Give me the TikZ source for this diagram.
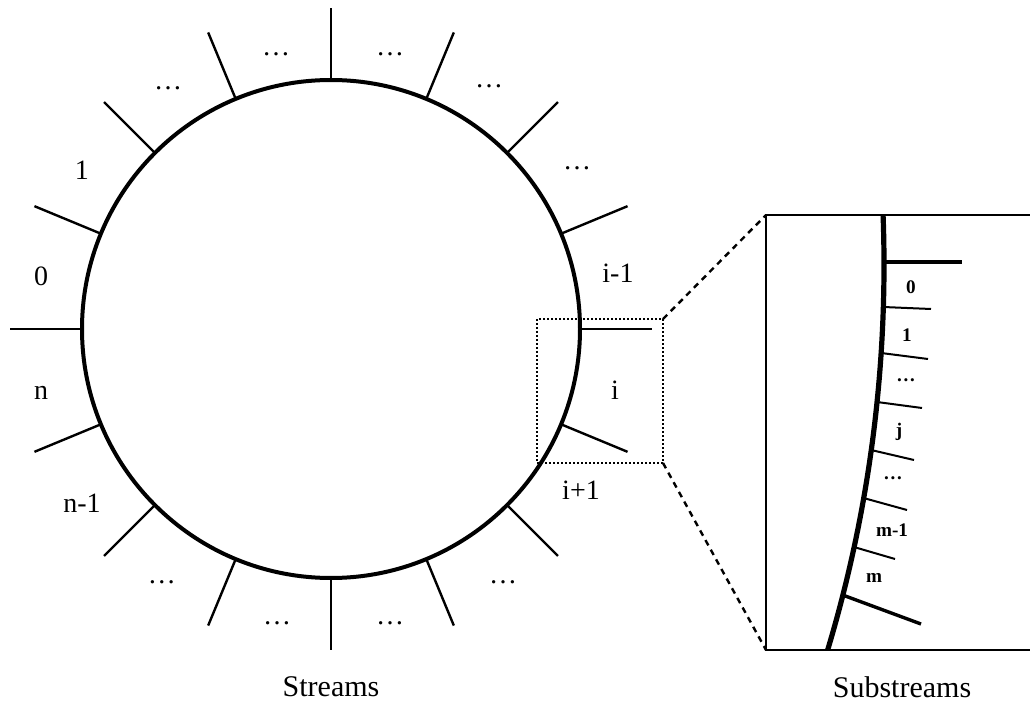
\documentclass[tikz,border=0pt]{standalone}
\usepackage{fontspec}
\setmainfont{Liberation Serif}
\usetikzlibrary{calc}
\begin{document}
\begin{tikzpicture}[x=0.5pt,y=-0.5pt,
  ring/.style={line width=2pt},
  spoke/.style={line width=1.2pt},
  curveline/.style={line width=2.6pt},
  thickspoke/.style={line width=1.7pt},
  thinspoke/.style={line width=1pt},
  boxline/.style={line width=1.2pt},
  zoomline/.style={line width=1.2pt, dash pattern=on 3pt off 2.5pt},
  dotbox/.style={line width=1pt, dash pattern=on 1pt off 1pt},
  lab/.style={font=\fontsize{14}{16}\selectfont, inner sep=0pt},
  captiontext/.style={font=\fontsize{15}{18}\selectfont, inner sep=0pt},
  sublab/.style={font=\fontsize{9.6}{11}\selectfont\bfseries, inner sep=0pt}]
\useasboundingbox (0,0) rectangle (1030,706);

% main circle with spokes
\coordinate (C) at (331,329);
\draw[ring] (C) circle[radius=249];
\foreach \a in {0,22.5,...,337.5}
  \draw[spoke] ($(C)+(\a:249)$) -- ($(C)+(\a:321)$);

% labels around circle
\node[lab] (t1) at (276,54) {\ldots};
\node[lab] (t2) at (390,54) {\ldots};
\node[lab] (t3) at (168,88) {\ldots};
\node[lab] (t4) at (489,86) {\ldots};
\node[lab] (t5) at (577,168) {\ldots};
\node[lab] (l1) at (82,170) {1};
\node[lab] (l0) at (41,276) {0};
\node[lab] (ln) at (41,393) {n};
\node[lab] (lnm) at (82,503) {n-1};
\node[lab] (lim) at (618,273) {i-1};
\node[lab] (li) at (615,390) {i};
\node[lab] (lip) at (581,490) {i+1};
\node[lab] (b1) at (162,582) {\ldots};
\node[lab] (b2) at (277,623) {\ldots};
\node[lab] (b3) at (390,623) {\ldots};
\node[lab] (b4) at (503,582) {\ldots};
\node[captiontext] (streams) at (331,687) {Streams};
\node[captiontext] (substreams) at (902,687) {Substreams};

% dotted selection and zoom lines
\draw[dotbox] (537,319) rectangle (663,463);
\coordinate (dTR) at (663,319);
\coordinate (dBR) at (663,463);
\coordinate (zTL) at (766,215);
\coordinate (zBL) at (766,650);
\coordinate (zTR) at (1030,215);
\coordinate (zBR) at (1030,650);
\draw[zoomline] (dTR) -- (zTL);
\draw[zoomline] (dBR) -- (zBL);
\draw[boxline] (zTR) -- (zTL) -- (zBL) -- (zBR);

% zoomed arc
\begin{scope}
  \clip (766,215) rectangle (1030,650);
  \draw[curveline] (-451,265) circle[radius=1335];
\end{scope}

% zoomed spokes
\coordinate (s0a) at (884,262);   \coordinate (s0b) at (962,262);
\coordinate (s1a) at (883.3,307); \coordinate (s1b) at (931,309);
\coordinate (s2a) at (881.1,353); \coordinate (s2b) at (928,359);
\coordinate (s3a) at (877,402);   \coordinate (s3b) at (922,408);
\coordinate (s4a) at (871.1,450); \coordinate (s4b) at (914,460);
\coordinate (s5a) at (863.5,498); \coordinate (s5b) at (907,510);
\coordinate (s6a) at (853.9,547); \coordinate (s6b) at (895,559);
\coordinate (s7a) at (842.6,595); \coordinate (s7b) at (921,624);
\draw[thickspoke] (s0a) -- (s0b);
\foreach \k in {1,...,6}
  \draw[thinspoke] (s\k a) -- (s\k b);
\draw[thickspoke] (s7a) -- (s7b);

% zoomed labels
\node[sublab] (z0) at (911,287) {0};
\node[sublab] (z1) at (907,335) {1};
\node[sublab] (z2) at (906,380) {\ldots};
\node[sublab] (zj) at (899,432) {j};
\node[sublab] (z4) at (893,478) {\ldots};
\node[sublab] (zm1) at (892,530) {m-1};
\node[sublab] (zm) at (874,578) {m};
\end{tikzpicture}
\end{document}
